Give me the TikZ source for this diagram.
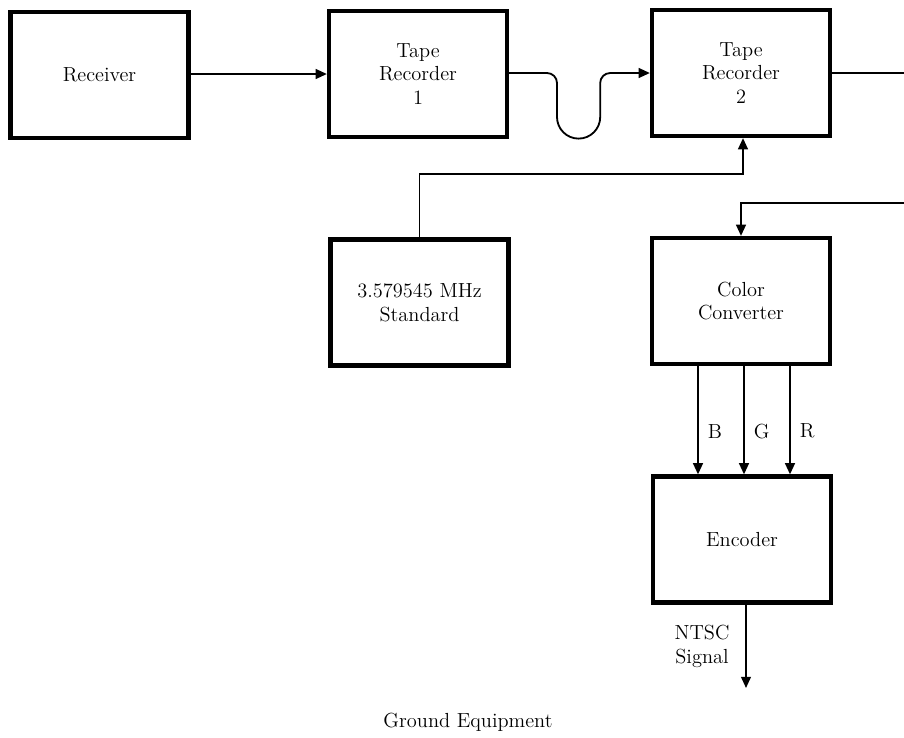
\documentclass[tikz,border=0pt]{standalone}
\usepackage{tikz}
\usetikzlibrary{positioning,arrows.meta,calc}

\begin{document}
\begin{tikzpicture}[x=0.025cm, y=-0.025cm, every node/.style={font=\fontsize{14.5}{17}\selectfont}]
  \tikzset{
    unit/.style={draw, line width=3pt, minimum width=4.45cm, minimum height=3.15cm, align=center, inner sep=0pt},
    wire/.style={line width=1.3pt},
    feed/.style={wire, -{Triangle[length=8pt, width=7pt]}}
  }
  \useasboundingbox (0,0) rectangle (904,738);

  % --- top row: receiver and the two recorders ---
  \node[unit] (rcv) at (99.5,75) {Receiver};
  \node[unit] (tr1) at (418,74) {Tape\\Recorder\\1};
  \node[unit] (tr2) at (741,73) {Tape\\Recorder\\2};

  % --- reference and colour chain ---
  \node[unit] (std) at (419.5,302.5) {3.579545 MHz\\Standard};
  \node[unit] (cconv) at (741,301) {Color\\Converter};
  \node[unit] (enc) at (742,539.5) {Encoder};

  \coordinate (outA) at (904,73);
  \coordinate (inB) at (904,203);
  \coordinate (stdbend) at (743,174);
  \coordinate (ntsc) at (746,688);

  % receiver to recorder 1
  \draw[feed] (rcv.east |- tr1.east) -- (tr1.east -| tr1.west);
  % recorder 1 to recorder 2, with the U bend
  \draw[feed] (tr1.east |- tr2.east) -- (547,73) arc[start angle=90, end angle=0, radius=0.25cm]
    -- (557,117) arc[start angle=180, end angle=360, radius=0.54cm]
    -- (600.2,83) arc[start angle=180, end angle=90, radius=0.25cm] -- (tr2.west);
  % standard to recorder 2
  \draw[feed] (std.north) |- (stdbend) -- (stdbend |- tr2.south);
  % recorder 2 out, back into the converter
  \draw[wire] (tr2.east) -- (outA);
  \draw[feed] (inB) -| (cconv.north);

  % B, G, R
  \foreach \dx/\lab in {-43/B, 3/G, 49/R} {
    \draw[feed] ([xshift=\dx*0.025cm]cconv.south) -- ([xshift=\dx*0.025cm]cconv.south |- enc.north)
      node[pos=0.6, right=3pt] {\lab};
  }

  % encoder out
  \draw[feed] (enc.south -| ntsc) -- (ntsc);
  \node[align=center] (ntsclab) at (702,646) {NTSC\\Signal};

  \node (caption) at (468,722) {Ground Equipment};
\end{tikzpicture}
\end{document}
